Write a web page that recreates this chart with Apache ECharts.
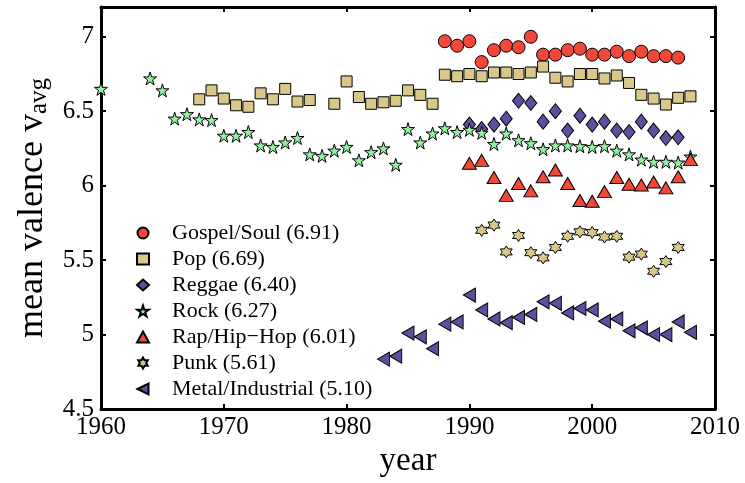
<!DOCTYPE html>
<html>
<head>
<meta charset="utf-8">
<script src="https://cdn.jsdelivr.net/npm/echarts@6/dist/echarts.min.js"></script>
<style>html,body{margin:0;padding:0;background:#fff}#c{width:745px;height:483px}</style>
</head>
<body>
<div id="c"></div>
<script>
const xTicks = [1960, 1970, 1980, 1990, 2000, 2010];
const yTicks = [4.5, 5, 5.5, 6, 6.5, 7];

const gospelYears = [1988,1989,1990,1991,1992,1993,1994,1995,1996,1997,1998,1999,2000,2001,2002,2003,2004,2005,2006,2007];
const gospelVals  = [6.97,6.94,6.97,6.83,6.91,6.94,6.93,7.00,6.88,6.88,6.91,6.92,6.88,6.88,6.90,6.87,6.90,6.87,6.87,6.86];

const popYears = [1968,1969,1970,1971,1972,1973,1974,1975,1976,1977,1979,1980,1981,1982,1983,1984,1985,1986,1987,1988,1989,1990,1991,1992,1993,1994,1995,1996,1997,1998,1999,2000,2001,2002,2003,2004,2005,2006,2007,2008];
const popVals  = [6.58,6.64,6.585,6.54,6.53,6.62,6.58,6.65,6.565,6.575,6.55,6.70,6.595,6.55,6.56,6.57,6.64,6.61,6.55,6.745,6.735,6.75,6.735,6.76,6.76,6.75,6.76,6.80,6.725,6.70,6.75,6.75,6.72,6.74,6.69,6.61,6.585,6.545,6.59,6.60];

const reggaeYears = [1990,1991,1992,1993,1994,1995,1996,1997,1998,1999,2000,2001,2002,2003,2004,2005,2006,2007];
const reggaeVals  = [6.41,6.38,6.41,6.45,6.57,6.555,6.43,6.50,6.37,6.47,6.41,6.43,6.37,6.36,6.43,6.37,6.32,6.325];

const rockYears = [1960,1964,1965,1966,1967,1968,1969,1970,1971,1972,1973,1974,1975,1976,1977,1978,1979,1980,1981,1982,1983,1984,1985,1986,1987,1988,1989,1990,1991,1992,1993,1994,1995,1996,1997,1998,1999,2000,2001,2002,2003,2004,2005,2006,2007,2008];
const rockVals  = [6.65,6.72,6.64,6.45,6.48,6.445,6.44,6.335,6.335,6.36,6.27,6.26,6.29,6.32,6.21,6.20,6.235,6.26,6.17,6.225,6.25,6.14,6.38,6.29,6.35,6.385,6.36,6.375,6.355,6.28,6.35,6.305,6.285,6.245,6.27,6.27,6.265,6.26,6.265,6.235,6.21,6.175,6.16,6.16,6.155,6.195];

const rapYears = [1990,1991,1992,1993,1994,1995,1996,1997,1998,1999,2000,2001,2002,2003,2004,2005,2006,2007,2008];
const rapVals  = [6.15,6.17,6.055,5.935,6.015,5.965,6.06,6.105,6.015,5.90,5.895,5.96,6.055,6.01,6.005,6.025,5.985,6.06,6.175];

const punkYears = [1991,1992,1993,1994,1995,1996,1997,1998,1999,2000,2001,2002,2003,2004,2005,2006,2007];
const punkVals  = [5.70,5.735,5.555,5.665,5.55,5.515,5.585,5.66,5.69,5.685,5.655,5.66,5.52,5.54,5.425,5.49,5.585];

const metalYears = [1983,1984,1985,1986,1987,1988,1989,1990,1991,1992,1993,1994,1995,1996,1997,1998,1999,2000,2001,2002,2003,2004,2005,2006,2007,2008];
const metalVals  = [4.835,4.855,5.01,4.985,4.905,5.07,5.085,5.265,5.165,5.105,5.08,5.115,5.135,5.22,5.21,5.145,5.175,5.165,5.09,5.105,5.025,5.045,5.00,5.00,5.085,5.015];

const seriesNames = ['Gospel/Soul (6.91)','Pop (6.69)','Reggae (6.40)','Rock (6.27)','Rap/Hip\u2212Hop (6.01)','Punk (5.61)','Metal/Industrial (5.10)'];

const RED = '#f2483a', TAN = '#d9c88a', PURPLE = '#5a509e', GREEN = '#93f0a2';
const STAR5 = 'path://M50,0 L61.2,34.5 L97.6,34.5 L68.2,55.9 L79.4,90.5 L50,69.1 L20.6,90.5 L31.8,55.9 L2.4,34.5 L38.8,34.5 Z';
const STAR6 = 'path://M50,0 L64.4,25 L93.3,25 L78.9,50 L93.3,75 L64.4,75 L50,100 L35.6,75 L6.7,75 L21.1,50 L6.7,25 L35.6,25 Z';
const LTRI = 'path://M0,50 L100,0 L100,100 Z';

function pts(xs, vs){ return xs.map((x,i)=>[x, vs[i]]); }

const specs = [
  {d: pts(gospelYears, gospelVals), sym: 'circle', size: 13, c: RED},
  {d: pts(popYears, popVals), sym: 'rect', size: 11, c: TAN},
  {d: pts(reggaeYears, reggaeVals), sym: 'diamond', size: [12,15], c: PURPLE},
  {d: pts(rockYears, rockVals), sym: STAR5, size: 13, c: GREEN},
  {d: pts(rapYears, rapVals), sym: 'triangle', size: [14,12], c: RED},
  {d: pts(punkYears, punkVals), sym: STAR6, size: 12, c: TAN},
  {d: pts(metalYears, metalVals), sym: LTRI, size: [12,14], c: PURPLE}
];

const FONT = 'Liberation Serif';
const chart = echarts.init(document.getElementById('c'), null, {renderer: 'canvas'});

const axisCommon = {
  axisLine: {show: true, onZero: false, lineStyle: {color: '#000', width: 3}},
  axisTick: {show: true, inside: true, length: 5, lineStyle: {color: '#000', width: 2}},
  splitLine: {show: false}
};

chart.setOption({
  animation: false,
  backgroundColor: '#fff',
  grid: {left: 101, right: 30, top: 7, bottom: 71, containLabel: false},
  legend: {
    orient: 'vertical', left: 131, top: 215, itemGap: 0,
    itemWidth: 12, itemHeight: 11,
    textStyle: {fontFamily: FONT, fontSize: 22, color: '#000', lineHeight: 26, padding: [0,0,0,18]},
    data: seriesNames
  },
  xAxis: [
    Object.assign({type: 'value', min: 1960, max: 2010, interval: 10, position: 'bottom',
      axisLabel: {fontFamily: FONT, fontSize: 25, color: '#000', margin: 6, formatter: v => String(v)},
      name: 'year', nameLocation: 'middle', nameGap: 36,
      nameTextStyle: {fontFamily: FONT, fontSize: 33, color: '#000'}}, axisCommon),
    Object.assign({type: 'value', min: 1960, max: 2010, interval: 10, position: 'top',
      axisLabel: {show: false}}, axisCommon)
  ],
  yAxis: [
    Object.assign({type: 'value', min: 4.5, max: 7.2, interval: 0.5, position: 'left',
      axisLabel: {fontFamily: FONT, fontSize: 25, color: '#000', margin: 7, showMaxLabel: false,
        formatter: v => (Math.abs(v - 7.2) < 1e-6 ? '' : String(v))},
      name: 'mean valence v{sub|avg}', nameLocation: 'middle', nameGap: 48, nameRotate: 90,
      nameTextStyle: {fontFamily: FONT, fontSize: 36, color: '#000',
        rich: {sub: {fontFamily: FONT, fontSize: 25, color: '#000', verticalAlign: 'bottom', padding: [14,0,0,0]}}}}, axisCommon),
    Object.assign({type: 'value', min: 4.5, max: 7.2, interval: 0.5, position: 'right',
      axisLabel: {show: false}}, axisCommon)
  ],
  series: specs.map((s, i) => ({
    name: seriesNames[i], type: 'scatter', xAxisIndex: 0, yAxisIndex: 0,
    data: s.d, symbol: s.sym, symbolSize: s.size,
    itemStyle: {color: s.c, borderColor: '#000', borderWidth: 1, opacity: 1},
    emphasis: {disabled: true}
  }))
});
</script>
</body>
</html>
